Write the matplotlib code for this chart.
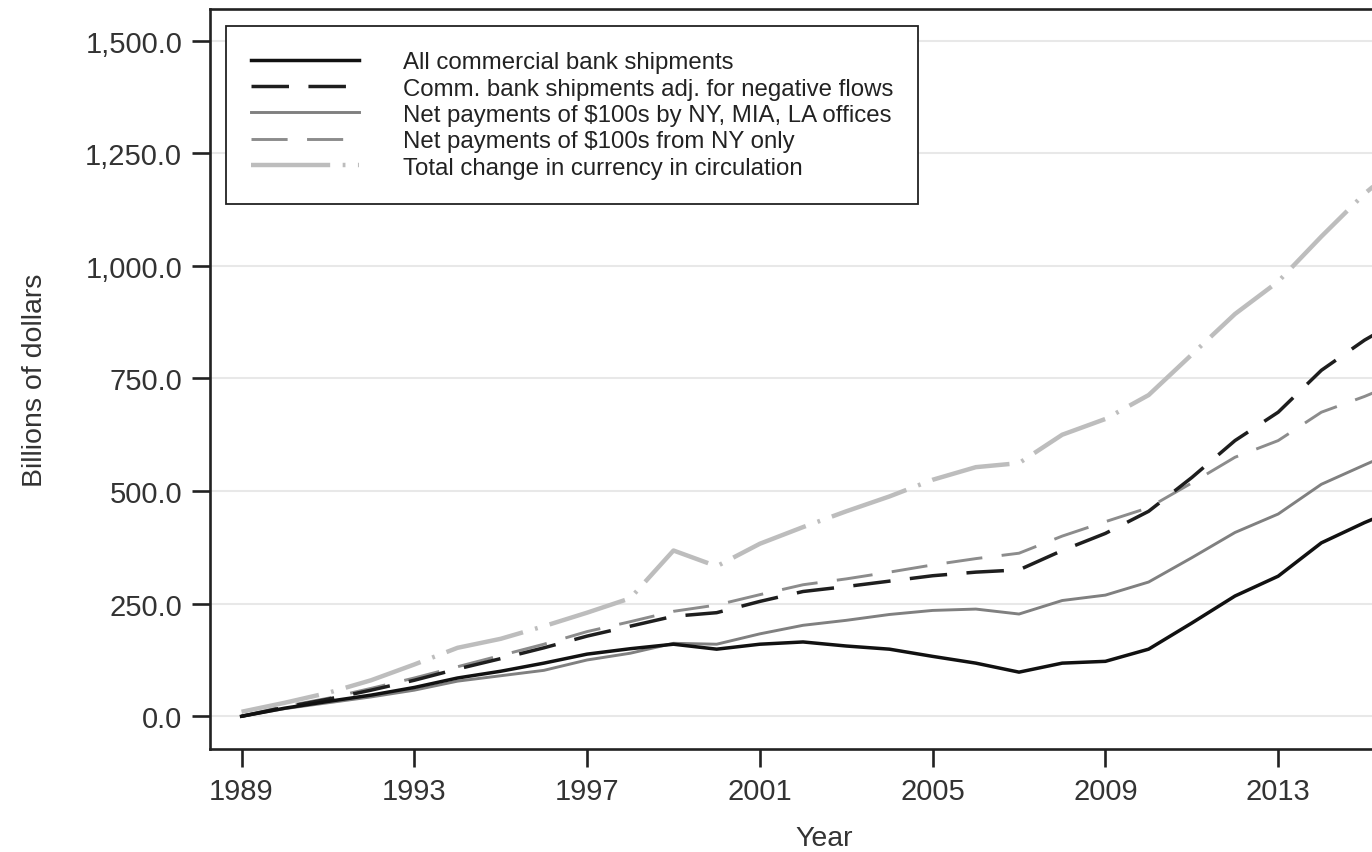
import numpy as np
import matplotlib
matplotlib.use("Agg")
import matplotlib.pyplot as plt
from matplotlib.ticker import FuncFormatter

# --- donnees (milliards de dollars) ---
years = list(range(1989, 2017))

all_shipments = [0, 18, 33, 47, 64, 85, 100, 118, 138, 150, 160, 149, 160, 165,
                 156, 149, 133, 118, 98, 118, 122, 149, 207, 267, 311, 385, 430, 470]
adj_shipments = [0, 20, 38, 58, 80, 105, 128, 152, 178, 200, 222, 230, 255, 277,
                 288, 300, 312, 320, 325, 368, 406, 455, 530, 612, 675, 768, 835, 890]
net_three_offices = [0, 17, 30, 43, 58, 78, 90, 102, 125, 140, 162, 160, 183, 202,
                     213, 226, 235, 238, 227, 257, 269, 298, 352, 408, 449, 515, 558, 600]
net_ny_only = [0, 22, 40, 62, 85, 110, 135, 160, 188, 210, 233, 247, 270, 292,
               305, 320, 336, 350, 362, 400, 432, 463, 518, 575, 612, 675, 710, 750]
total_change = [10, 30, 52, 80, 115, 152, 172, 200, 230, 262, 368, 333, 383, 420,
                455, 488, 525, 553, 562, 625, 660, 713, 803, 893, 965, 1065, 1160, 1240]

labels = ["All commercial bank shipments",
          "Comm. bank shipments adj. for negative flows",
          "Net payments of $100s by NY, MIA, LA offices",
          "Net payments of $100s from NY only",
          "Total change in currency in circulation"]

x_ticks = [1989, 1993, 1997, 2001, 2005, 2009, 2013]
y_ticks = [0, 250, 500, 750, 1000, 1250, 1500]

plt.rcParams['font.family'] = ['Liberation Sans', 'DejaVu Sans']
plt.rcParams['lines.scale_dashes'] = False
txt = '#333333'

fig = plt.figure(figsize=(13.72, 8.53), dpi=100)
ax = fig.add_axes([210 / 1372, 1 - 750 / 853, 1228 / 1372, 740 / 853])

ax.plot(years, all_shipments, color='#111111', lw=2.5, ls='-', label=labels[0], zorder=6)
ax.plot(years, adj_shipments, color='#1e1e1e', lw=2.5, ls=(0, (27, 14)),
        dash_capstyle='butt', label=labels[1], zorder=5)
ax.plot(years, net_three_offices, color='#808080', lw=2.1, ls='-', label=labels[2], zorder=4)
ax.plot(years, net_ny_only, color='#8c8c8c', lw=2.1, ls=(0, (26, 14)),
        dash_capstyle='butt', label=labels[3], zorder=3)
ax.plot(years, total_change, color='#bdbdbd', lw=3.2, ls=(0, (57, 9, 2, 9)),
        dash_capstyle='butt', label=labels[4], zorder=2)

ax.set_xlim(1988.27, 2016.7)
ax.set_ylim(-72.6, 1570)
ax.set_xticks(x_ticks)
ax.set_yticks(y_ticks)
ax.yaxis.set_major_formatter(FuncFormatter(lambda v, p: f"{v:,.1f}"))

ax.grid(True, axis='y', color='#e8e8e8', lw=1.5, zorder=0)
ax.set_axisbelow(True)

for s in ax.spines.values():
    s.set_color('#222222')
    s.set_linewidth(1.9)

ax.tick_params(axis='both', length=13, width=1.9, color='#222222',
               labelsize=21, labelcolor=txt, pad=7)

ax.set_xlabel('Year', fontsize=20.5, color=txt)
ax.set_ylabel('Billions of dollars', fontsize=20.5, color=txt)
ax.xaxis.set_label_coords(0.5, -0.103)
ax.yaxis.set_label_coords(-0.132, 0.5)

leg = ax.legend(loc='upper left', bbox_to_anchor=(226 / 1372, 1 - 27 / 853),
                bbox_transform=fig.transFigure, borderaxespad=0,
                fontsize=17.3, handlelength=4.5, handletextpad=1.8,
                labelspacing=0.18, borderpad=1.05, fancybox=False,
                framealpha=1, edgecolor='#222222')
leg.get_frame().set_linewidth(1.3)
for t in leg.get_texts():
    t.set_color('#222222')

plt.savefig('out.png', dpi=100)
